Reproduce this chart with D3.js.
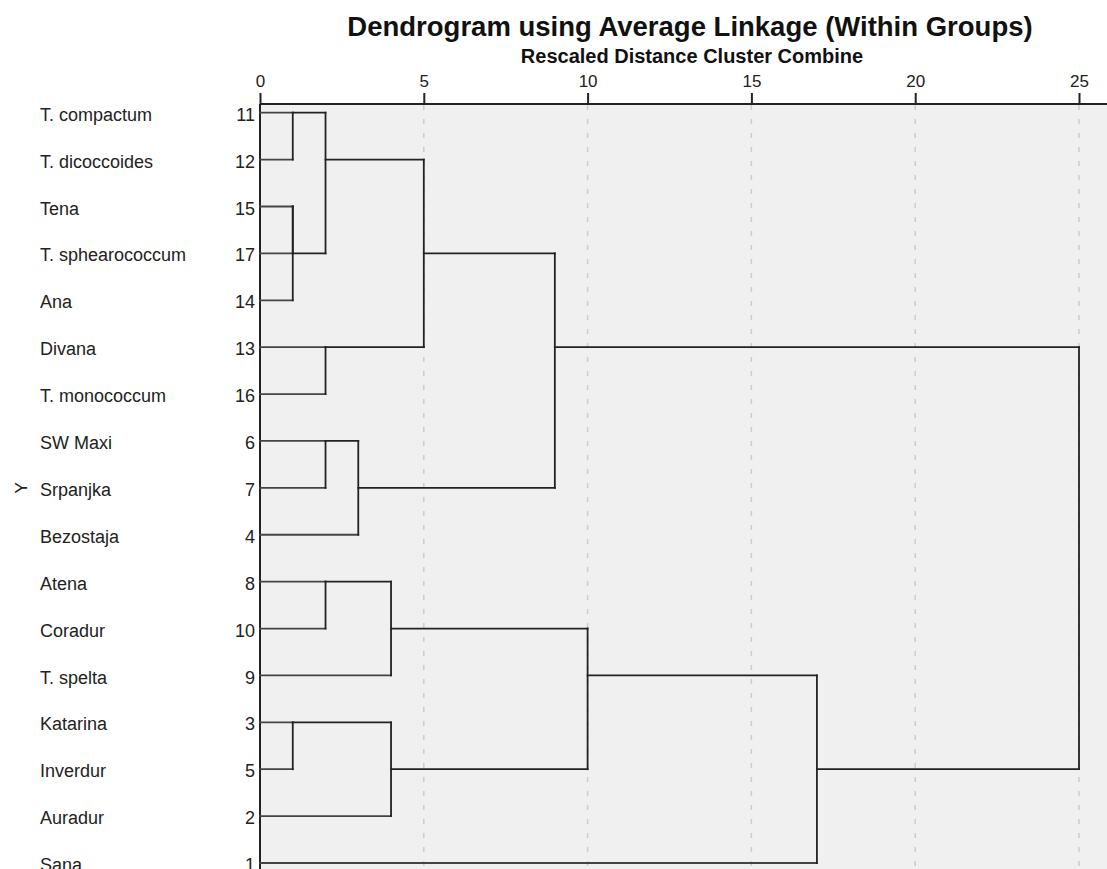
<!DOCTYPE html>
<html>
<head>
<meta charset="utf-8">
<script src="https://cdn.jsdelivr.net/npm/d3@7"></script>
<style>
  html, body { margin: 0; padding: 0; background: #fff; }
  svg { display: block; font-family: "Liberation Sans", Arial, sans-serif; }
</style>
</head>
<body>
<svg id="chart" width="1107" height="869"></svg>
<script>
// ---- data ----
const rowNames = ["T. compactum","T. dicoccoides","Tena","T. sphearococcum","Ana","Divana","T. monococcum","SW Maxi","Srpanjka","Bezostaja","Atena","Coradur","T. spelta","Katarina","Inverdur","Auradur","Sana"];
const caseNumbers = [11,12,15,17,14,13,16,6,7,4,8,10,9,3,5,2,1];
// agglomeration: [case in cluster A, case in cluster B, rescaled distance]
const mergeA = [11,15,15,3,13,6,8,11,6,8,3,11,11,8,8,11];
const mergeB = [12,17,14,5,16,7,10,15,4,9,2,13,6,3,1,8];
const mergeDist = [1,1,1,1,2,2,2,2,3,4,4,5,9,10,17,25];
const tickValues = [0,5,10,15,20,25];
const gridValues = [5,10,15,20,25];
const titleText = "Dendrogram using Average Linkage (Within Groups)";
const subtitleText = "Rescaled Distance Cluster Combine";
const yTitle = "Y";

// ---- layout ----
const W = 1107, H = 869;
const svg = d3.select("#chart");
const x = d3.scaleLinear().domain([0,25]).range([260,1079]);
const y = d3.scalePoint().domain(caseNumbers.map(String)).range([112.7,863]);
const rowY = i => y(String(caseNumbers[i]));
const axisY = 104;

// plot background
svg.append("rect").attr("x", x(0)).attr("y", axisY).attr("width", W - x(0)).attr("height", H - axisY).attr("fill", "#f0f0f0");

// grid
svg.append("g").selectAll("line").data(gridValues).join("line")
  .attr("x1", d => x(d)).attr("x2", d => x(d))
  .attr("y1", axisY + 1).attr("y2", H)
  .attr("stroke", "#cccccc").attr("stroke-width", 1.5).attr("stroke-dasharray", "5,9");

// titles
svg.append("text").attr("x", 690).attr("y", 36).attr("text-anchor", "middle")
  .attr("font-size", 27.5).attr("font-weight", "bold").attr("fill", "#111").text(titleText);
svg.append("text").attr("x", 692).attr("y", 63).attr("text-anchor", "middle")
  .attr("font-size", 20).attr("font-weight", "bold").attr("fill", "#111").text(subtitleText);

// top axis
const ax = svg.append("g").attr("transform", `translate(0,${axisY})`)
  .call(d3.axisTop(x).tickValues(tickValues).tickSize(11).tickPadding(6).tickSizeOuter(0));
ax.select(".domain").remove();
ax.selectAll(".tick line").attr("stroke", "#222").attr("stroke-width", 2);
ax.selectAll(".tick text").attr("font-size", 17).attr("fill", "#222").attr("font-family", "Liberation Sans, Arial, sans-serif");
svg.append("line").attr("x1", x(0)).attr("x2", W).attr("y1", axisY).attr("y2", axisY).attr("stroke", "#222").attr("stroke-width", 2);
svg.append("line").attr("x1", x(0)).attr("x2", x(0)).attr("y1", axisY).attr("y2", H).attr("stroke", "#222").attr("stroke-width", 2);

// row labels
const rows = svg.append("g");
rows.selectAll("text.name").data(rowNames).join("text").attr("class","name")
  .attr("x", 40).attr("y", (d,i) => rowY(i)).attr("dy", "0.45em")
  .attr("font-size", 18).attr("fill", "#222").text(d => d);
rows.selectAll("text.num").data(caseNumbers).join("text").attr("class","num")
  .attr("x", 255).attr("y", (d,i) => rowY(i)).attr("dy", "0.45em").attr("text-anchor", "end")
  .attr("font-size", 18).attr("fill", "#222").text(d => d);

// y title (rotated)
svg.append("text").attr("transform", `translate(21,${y("7")}) rotate(-90)`)
  .attr("text-anchor", "middle").attr("dy", "0.35em").attr("font-size", 17).attr("fill", "#222").text(yTitle);

// ---- dendrogram (SPSS style) ----
const clusterOf = new Map();   // case -> cluster object
caseNumbers.forEach((c, i) => clusterOf.set(c, {rep: i, h: 0, members: [c]}));
const segs = [];
mergeDist.forEach((h, k) => {
  const A = clusterOf.get(mergeA[k]), B = clusterOf.get(mergeB[k]);
  segs.push({x1: x(A.h), x2: x(h), y1: rowY(A.rep), y2: rowY(A.rep), leaf: A.h === 0});
  segs.push({x1: x(B.h), x2: x(h), y1: rowY(B.rep), y2: rowY(B.rep), leaf: B.h === 0});
  segs.push({x1: x(h), x2: x(h), y1: rowY(A.rep), y2: rowY(B.rep), leaf: false});
  const C = {rep: Math.floor((A.rep + B.rep) / 2), h: h, members: A.members.concat(B.members)};
  C.members.forEach(m => clusterOf.set(m, C));
});
svg.append("g").selectAll("line").data(segs).join("line")
  .attr("x1", d => d.x1).attr("x2", d => d.x2).attr("y1", d => d.y1).attr("y2", d => d.y2)
  .attr("stroke", d => d.leaf ? "#444" : "#222").attr("stroke-width", 1.8).attr("stroke-linecap", "square");
</script>
</body>
</html>
